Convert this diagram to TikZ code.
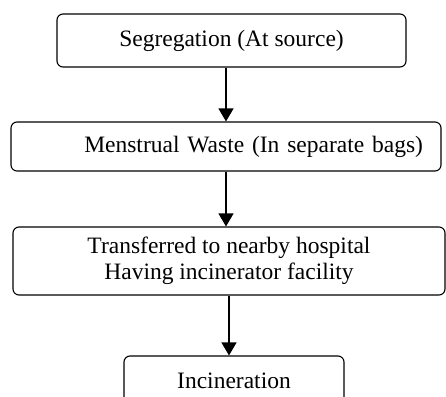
\documentclass[tikz,border=0pt]{standalone}
\usepackage{fontspec}
\setmainfont{Liberation Serif}
\usetikzlibrary{arrows.meta}

\begin{document}
\begin{tikzpicture}[x=1pt, y=-1pt, every node/.style={font=\fontsize{23.5}{26}\selectfont}]
    \useasboundingbox (0,0) rectangle (446,396);
    \tikzset{stepbox/.style={draw, line width=1.1pt, rounded corners=6pt, inner sep=0pt}}
    \node[stepbox, minimum width=349pt, minimum height=53pt] (seg) at (231.5,40.5) {Segregation (At source)};
    \node[stepbox, minimum width=430pt, minimum height=49pt, text width=394pt, align=right, inner xsep=18pt] (waste) at (226,146.5) {Menstrual Waste (In separate bags)};
    \node[stepbox, minimum width=432pt, minimum height=68pt, align=center] (hosp) at (229,261) {Transferred to nearby hospital\\Having incinerator facility};
    \node[stepbox, minimum width=220pt, minimum height=50pt] (incin) at (234,381) {Incineration};
    \draw[line width=1.1pt, -{Triangle[width=15pt,length=13pt]}] (waste.north |- seg.south) -- (waste.north);
    \draw[line width=1.1pt, -{Triangle[width=15pt,length=13pt]}] (waste.south) -- (waste.south |- hosp.north);
    \draw[line width=1.1pt, -{Triangle[width=15pt,length=13pt]}] (hosp.south) -- (hosp.south |- incin.north);
\end{tikzpicture}
\end{document}
